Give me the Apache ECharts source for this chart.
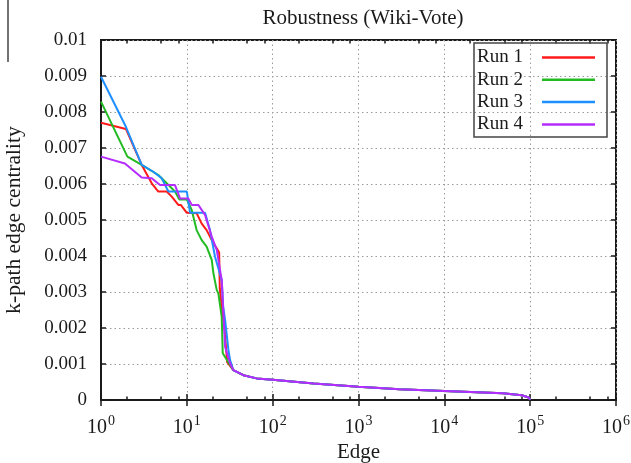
<!DOCTYPE html>
<html>
<head>
<meta charset="utf-8">
<script src="https://cdn.jsdelivr.net/npm/echarts@6/dist/echarts.min.js"></script>
<style>
  html, body { margin: 0; padding: 0; background: #fff; }
  #chart { width: 631px; height: 463px; }
</style>
</head>
<body>
<div id="chart"></div>
<script>
const seriesNames = ['Run 1', 'Run 2', 'Run 3', 'Run 4'];
const colors = ['#ff1a1a', '#22bb22', '#1e8fff', '#b52cff'];

// shared tail, all four runs collapse onto it
const tail = [[34.8, 0.00083], [45.6, 0.00069], [65, 0.0006], [100, 0.00056], [300, 0.00046],
  [1000, 0.00037], [3000, 0.0003], [10000, 0.00025], [48000, 0.000185], [80000, 0.00013],
  [96000, 0.00007], [100000, 0.00001]];

const run1 = [[1, 0.0077], [1.95, 0.00753], [2.98, 0.00653], [3.9, 0.00602], [4.66, 0.00579],
  [5.83, 0.00579], [6.67, 0.00565], [7.96, 0.00542], [8.5, 0.00542], [10, 0.0052], [13, 0.00519],
  [14.9, 0.0049], [17, 0.00472], [20.4, 0.00435], [22.5, 0.0042], [23.8, 0.0041], [24.2, 0.0031],
  [25.5, 0.0026], [27.5, 0.002], [28.5, 0.0015], [29.5, 0.00105]];
const run2 = [[1, 0.00829], [2.03, 0.00676], [2.98, 0.00653], [4.66, 0.00625], [5.83, 0.00602],
  [7.28, 0.00579], [8.19, 0.00557], [10, 0.00557], [11.4, 0.00528], [13, 0.00472], [14.9, 0.00444],
  [17, 0.00426], [19.5, 0.00389], [20.4, 0.00352], [22.3, 0.00306], [23.3, 0.00296], [25.5, 0.00231],
  [26.2, 0.0013], [29.2, 0.00112]];
const run3 = [[1, 0.00898], [1.95, 0.00759], [2.98, 0.00653], [4.07, 0.00634], [5.1, 0.00616],
  [6.1, 0.00579], [10, 0.00579], [10.9, 0.0052], [16.3, 0.0052], [18.6, 0.00472], [21.3, 0.00398],
  [23, 0.0037], [25.5, 0.00333], [26.5, 0.0026], [28, 0.0022], [29.2, 0.0018], [30.5, 0.00139],
  [31.9, 0.00111]];
const run4 = [[1, 0.00676], [1.9, 0.00657], [2.98, 0.00618], [3.9, 0.00616], [4.87, 0.00597],
  [7.28, 0.00597], [8.33, 0.0056], [10.4, 0.0056], [11.4, 0.00542], [13.6, 0.00542], [16.3, 0.00514],
  [19.5, 0.00454], [22.3, 0.00417], [25.5, 0.00333], [26.7, 0.0024], [27.9, 0.00148], [31.9, 0.00102]];

const runs = [run1, run2, run3, run4];
const minorTicks = [2, 5, 8, 20, 50, 80, 200, 500, 800, 2000, 5000, 8000,
  20000, 50000, 80000, 200000, 500000, 800000];

const font = 'Liberation Serif';
const ink = '#1a1a1a';

const chart = echarts.init(document.getElementById('chart'));

const xBase = { type: 'log', logBase: 10, min: 1, max: 1e6 };
const tickLine = { color: ink, width: 1.5 };

chart.setOption({
  animation: false,
  backgroundColor: '#fff',
  title: {
    text: 'Robustness (Wiki-Vote)',
    left: 358, top: 3, textAlign: 'center',
    textStyle: { fontFamily: font, fontSize: 21, fontWeight: 'normal', color: ink }
  },
  grid: {
    left: 101, right: 15, top: 40, bottom: 63,
    show: true, borderColor: ink, borderWidth: 2,
    containLabel: false, outerBoundsMode: 'none'
  },
  legend: {
    orient: 'vertical', left: 474, top: 43,
    padding: [5, 12, 3, 3],
    itemGap: 3.3, itemWidth: 53, itemHeight: 2.5, align: 'right',
    icon: 'rect',
    borderColor: '#444', borderWidth: 1.5,
    formatter: name => '{a|' + name + '}',
    textStyle: {
      color: ink,
      rich: { a: { fontFamily: font, fontSize: 19, color: ink, width: 60, lineHeight: 20, align: 'left' } }
    },
    data: seriesNames
  },
  graphic: [{
    type: 'line', shape: { x1: 8, y1: 0, x2: 8, y2: 62 },
    style: { stroke: '#444', lineWidth: 1.5 }
  }],
  xAxis: [
    Object.assign({}, xBase, {
      position: 'bottom',
      name: 'Edge', nameLocation: 'middle', nameGap: 32,
      nameTextStyle: { fontFamily: font, fontSize: 21, color: ink },
      axisLine: { show: true, lineStyle: { color: ink, width: 2 } },
      axisTick: { inside: true, length: 6, lineStyle: tickLine },
      splitLine: { show: true, lineStyle: { type: [1.5, 3], color: '#9a9a9a', width: 1 } },
      axisLabel: {
        margin: 14, color: ink,
        formatter: v => '{b|10}{s|' + Math.round(Math.log10(v)) + '}',
        rich: {
          b: { fontFamily: font, fontSize: 20, color: ink },
          s: { fontFamily: font, fontSize: 14, color: ink, padding: [0, 0, 13, 1] }
        }
      }
    }),
    Object.assign({}, xBase, {
      position: 'top',
      axisLine: { show: false },
      axisTick: { inside: true, length: 6, lineStyle: tickLine },
      axisLabel: { show: false }, splitLine: { show: false }
    }),
    Object.assign({}, xBase, {
      position: 'bottom',
      axisLine: { show: false },
      axisTick: { inside: true, length: 3.5, lineStyle: tickLine, customValues: minorTicks },
      axisLabel: { show: false }, splitLine: { show: false }
    }),
    Object.assign({}, xBase, {
      position: 'top',
      axisLine: { show: false },
      axisTick: { inside: true, length: 3.5, lineStyle: tickLine, customValues: minorTicks },
      axisLabel: { show: false }, splitLine: { show: false }
    })
  ],
  yAxis: [
    {
      type: 'value', min: 0, max: 0.01, interval: 0.001, position: 'left',
      name: 'k-path edge centrality', nameLocation: 'middle', nameGap: 76,
      nameTextStyle: { fontFamily: font, fontSize: 21.5, color: ink },
      axisLine: { show: true, lineStyle: { color: ink, width: 2 } },
      axisTick: { inside: true, length: 5, lineStyle: tickLine },
      splitLine: { show: true, lineStyle: { type: [1.5, 3], color: '#9a9a9a', width: 1 } },
      axisLabel: {
        margin: 14, color: ink, fontFamily: font, fontSize: 19,
        formatter: v => v === 0 ? '0' : String(+v.toFixed(3))
      }
    },
    {
      type: 'value', min: 0, max: 0.01, interval: 0.001, position: 'right',
      axisLine: { show: false },
      axisTick: { inside: true, length: 5, lineStyle: tickLine },
      axisLabel: { show: false }, splitLine: { show: false }
    }
  ],
  series: runs.map((r, i) => ({
    name: seriesNames[i],
    type: 'line',
    xAxisIndex: 0, yAxisIndex: 0,
    data: r.concat(tail),
    symbol: 'none',
    color: colors[i],
    lineStyle: { color: colors[i], width: 2 },
    z: 3 + i
  }))
});
</script>
</body>
</html>
